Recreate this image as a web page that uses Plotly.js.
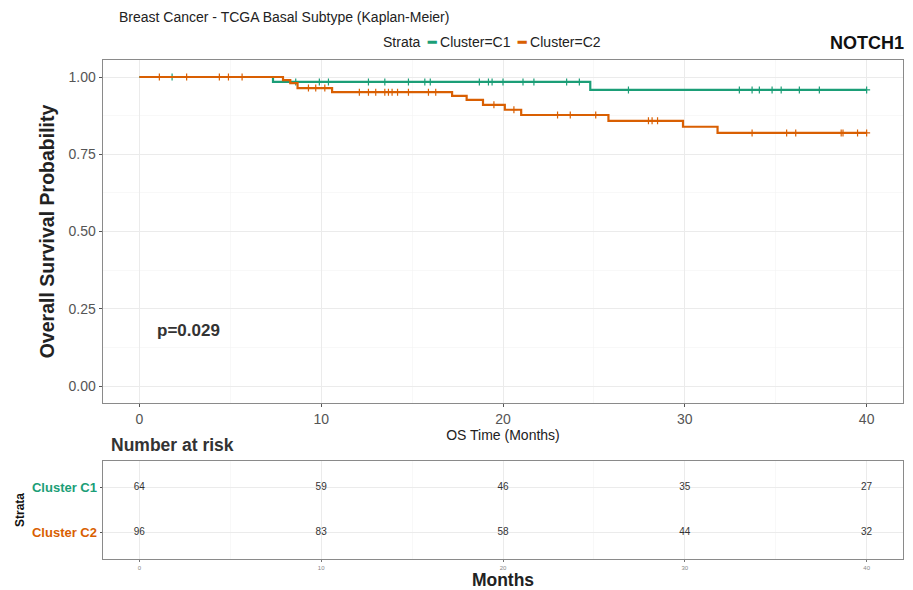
<!DOCTYPE html>
<html>
<head>
<meta charset="utf-8">
<script src="https://cdn.plot.ly/plotly-3.0.1.min.js"></script>
<style>html,body{margin:0;padding:0;background:#fff}#chart{width:913px;height:590px}</style>
</head>
<body>
<div id="chart"></div>
<script>
// ---- data ----
const seriesNames = ["Cluster=C1", "Cluster=C2"];
const strataLabels = ["Cluster C1", "Cluster C2"];
const colors = ["#1b9e77", "#d95f02"];

const c1Times = [0, 7.35, 24.8, 40];
const c1Surv  = [1, 0.984, 0.958, 0.958];
const c2Times = [0, 7.9, 8.3, 8.7, 10.6, 17.2, 18.0, 18.9, 20.1, 21.0, 25.8, 29.9, 31.8, 40];
const c2Surv  = [1, 0.99, 0.98, 0.964, 0.951, 0.939, 0.926, 0.910, 0.894, 0.877, 0.858, 0.839, 0.819, 0.819];

const c1Censor = [1.8, 8.6, 9.9, 10.4, 12.6, 13.5, 14.8, 15.7, 16.0, 18.7, 19.2, 19.4, 20.0, 21.1, 21.7, 23.5, 24.2, 26.9, 33.0, 33.7, 34.1, 34.8, 35.3, 36.3, 37.4, 40.0];
const c2Censor = [1.1, 2.6, 4.4, 4.9, 5.65, 9.3, 9.7, 10.2, 12.1, 12.6, 13.0, 13.5, 13.7, 13.9, 14.2, 14.8, 15.9, 16.3, 19.5, 20.6, 23.0, 23.7, 25.1, 28.0, 28.2, 28.5, 33.7, 35.6, 36.1, 38.6, 38.7, 39.5, 40.0];

const riskTimes = [0, 10, 20, 30, 40];
const riskC1 = [64, 59, 46, 35, 27];
const riskC2 = [96, 83, 58, 44, 32];

const pValueText = "p=0.029";
const geneLabel = "NOTCH1";
const chartTitle = "Breast Cancer - TCGA Basal Subtype (Kaplan-Meier)";

// ---- helpers ----
function survAt(times, surv, t) {
  let s = surv[0];
  for (let i = 0; i < times.length; i++) { if (times[i] <= t) s = surv[i]; }
  return s;
}

const W = 913, H = 590;
const px = (x) => x / W;
const py = (y) => 1 - y / H;

const curves = [[c1Times, c1Surv, c1Censor], [c2Times, c2Surv, c2Censor]];
const traces = [];
curves.forEach((c, i) => {
  traces.push({
    x: c[0], y: c[1], type: "scatter", mode: "lines", line: {shape: "hv", color: colors[i], width: 2.2},
    name: seriesNames[i], showlegend: false, hoverinfo: "skip", xaxis: "x", yaxis: "y"
  });
  traces.push({
    x: c[2], y: c[2].map(t => survAt(c[0], c[1], t)), type: "scatter", mode: "markers",
    marker: {symbol: "cross-thin", size: 5, line: {color: colors[i], width: 1.2}, color: colors[i]},
    showlegend: false, hoverinfo: "skip", xaxis: "x", yaxis: "y"
  });
});
// risk table
[[riskC1, 2], [riskC2, 1]].forEach(r => {
  traces.push({
    x: riskTimes, y: riskTimes.map(() => r[1]), text: r[0].map(String), mode: "text", type: "scatter",
    textfont: {family: "Liberation Sans, Arial, sans-serif", size: 10, color: "#333"},
    showlegend: false, hoverinfo: "skip", xaxis: "x2", yaxis: "y2"
  });
});

const fam = "Liberation Sans, Arial, sans-serif";
const gridCol = "#ebebeb";
const layout = {
  width: W, height: H, margin: {l: 0, r: 0, t: 0, b: 0},
  paper_bgcolor: "#fff", plot_bgcolor: "#fff", showlegend: false,
  font: {family: fam},
  xaxis: {
    domain: [px(103), px(903)], range: [-2, 42], tickvals: riskTimes, ticktext: riskTimes.map(String),
    showgrid: true, gridcolor: gridCol, gridwidth: 1, zeroline: false,
    minor: {dtick: 5, tick0: 5, showgrid: true, gridcolor: "#f4f4f4", gridwidth: 0.6},
    showline: true, mirror: true, linecolor: "#8a8a8a", linewidth: 1.4,
    ticks: "outside", ticklen: 3, tickcolor: "#555", tickfont: {size: 14, color: "#555", family: fam},
    title: {text: "OS Time (Months)", font: {size: 14, color: "#222", family: fam}, standoff: 1},
    anchor: "y"
  },
  yaxis: {
    domain: [py(403), py(60)], range: [-0.055, 1.055], tickvals: [0, 0.25, 0.5, 0.75, 1],
    ticktext: ["0.00", "0.25", "0.50", "0.75", "1.00"],
    showgrid: true, gridcolor: gridCol, zeroline: false,
    minor: {dtick: 0.125, tick0: 0.125, showgrid: true, gridcolor: "#f4f4f4", gridwidth: 0.6},
    showline: true, mirror: true, linecolor: "#8a8a8a", linewidth: 1.4,
    ticks: "outside", ticklen: 3, tickcolor: "#555", tickfont: {size: 14, color: "#555", family: fam},
    title: {text: "<b>Overall Survival Probability</b>", font: {size: 19.5, color: "#222", family: fam}, standoff: 8},
    anchor: "x"
  },
  xaxis2: {
    domain: [px(103), px(903)], range: [-2, 42], tickvals: riskTimes, ticktext: riskTimes.map(String),
    showgrid: true, gridcolor: gridCol, zeroline: false,
    minor: {dtick: 5, tick0: 5, showgrid: true, gridcolor: "#f4f4f4", gridwidth: 0.6},
    showline: true, mirror: true, linecolor: "#8a8a8a", linewidth: 1.4,
    ticks: "outside", ticklen: 2, tickcolor: "#777", tickfont: {size: 6, color: "#888", family: fam},
    title: {text: "<b>Months</b>", font: {size: 17.5, color: "#222", family: fam}, standoff: 0},
    anchor: "y2"
  },
  yaxis2: {
    domain: [py(559), py(461)], range: [0.4, 2.6], tickvals: [2, 1],
    ticktext: ["<b><span style='color:" + colors[0] + "'>" + strataLabels[0] + "</span></b>",
               "<b><span style='color:" + colors[1] + "'>" + strataLabels[1] + "</span></b>"],
    showgrid: true, gridcolor: gridCol, zeroline: false,
    showline: true, mirror: true, linecolor: "#8a8a8a", linewidth: 1.4,
    ticks: "outside", ticklen: 2, tickcolor: "#555", tickfont: {size: 13, family: fam},
    title: {text: "<b>Strata</b>", font: {size: 12, color: "#111", family: fam}, standoff: 4},
    anchor: "x2"
  },
  annotations: [
    {xref: "paper", yref: "paper", x: px(117), y: py(17), xanchor: "left", yanchor: "middle", showarrow: false,
     text: chartTitle, font: {size: 14, color: "#222", family: fam}},
    {xref: "paper", yref: "paper", x: px(381), y: py(42), xanchor: "left", yanchor: "middle", showarrow: false,
     text: "Strata  <span style='color:" + colors[0] + "'><b>━</b></span> " + seriesNames[0] +
           "  <span style='color:" + colors[1] + "'><b>━</b></span> " + seriesNames[1],
     font: {size: 14, color: "#222", family: fam}},
    {xref: "paper", yref: "paper", x: px(906), y: py(43), xanchor: "right", yanchor: "middle", showarrow: false,
     text: "<b>" + geneLabel + "</b>", font: {size: 18, color: "#111", family: fam}},
    {xref: "x", yref: "y", x: 0.85, y: 0.18, xanchor: "left", yanchor: "middle", showarrow: false,
     text: "<b>" + pValueText + "</b>", font: {size: 17, color: "#333", family: fam}},
    {xref: "paper", yref: "paper", x: px(109), y: py(445), xanchor: "left", yanchor: "middle", showarrow: false,
     text: "<b>Number at risk</b>", font: {size: 17.5, color: "#333", family: fam}}
  ]
};

Plotly.newPlot("chart", traces, layout, {displayModeBar: false, staticPlot: true});
</script>
</body>
</html>
